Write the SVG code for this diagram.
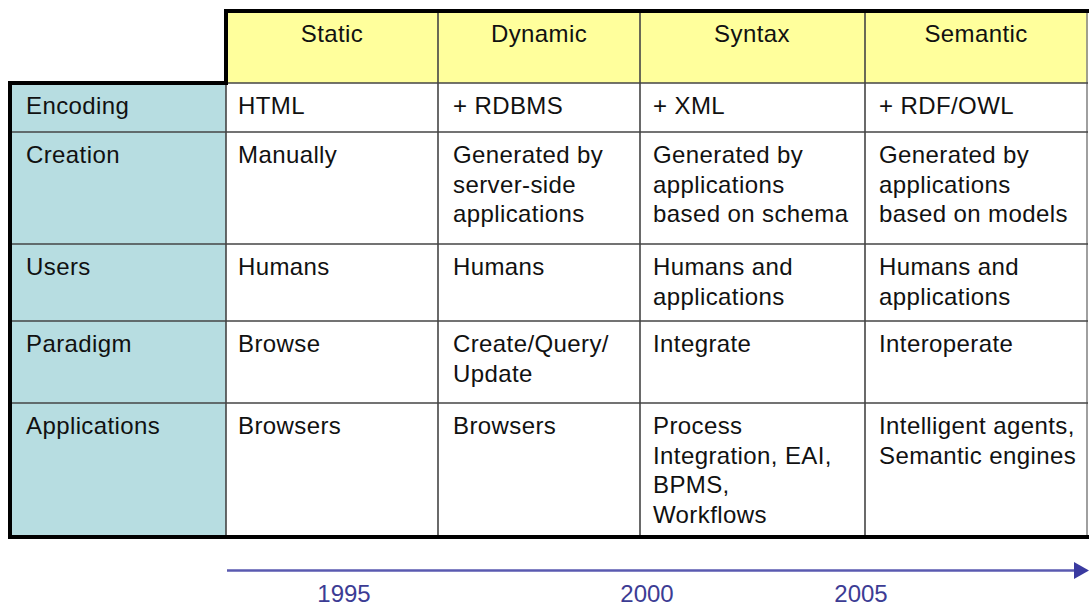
<svg xmlns="http://www.w3.org/2000/svg" width="1089" height="606" viewBox="0 0 1089 606">
<defs>
<style>
.t{font-family:"Liberation Sans",Arial,sans-serif;font-size:24px;fill:#111;letter-spacing:0.4px}
.h{text-anchor:middle}
.yr{font-family:"Liberation Sans",Arial,sans-serif;font-size:24px;fill:#3c3c94;text-anchor:middle}
.grid{stroke:#444;stroke-width:1.6;fill:none}
.thick{stroke:#000;stroke-width:4;fill:none}
</style>
</defs>
<rect width="1089" height="606" fill="#fff"/>
<g id="header">
<rect x="226" y="11" width="862" height="72" fill="#ffff9c"/>
<text class="t h" x="332" y="42">Static</text>
<text class="t h" x="539" y="42">Dynamic</text>
<text class="t h" x="752" y="42">Syntax</text>
<text class="t h" x="976" y="42">Semantic</text>
</g>
<g id="rowlabels">
<rect x="10" y="83" width="216" height="454" fill="#b7dde1"/>
<text class="t" x="26" y="114">Encoding</text>
<text class="t" x="26" y="163">Creation</text>
<text class="t" x="26" y="275">Users</text>
<text class="t" x="26" y="352">Paradigm</text>
<text class="t" x="26" y="434">Applications</text>
</g>
<g id="grid">
<line class="grid" x1="438" y1="11" x2="438" y2="537"/>
<line class="grid" x1="640" y1="11" x2="640" y2="537"/>
<line class="grid" x1="865" y1="11" x2="865" y2="537"/>
<line class="grid" x1="1087" y1="11" x2="1087" y2="537" style="stroke:#888"/>
<line class="grid" x1="226" y1="83" x2="226" y2="537"/>
<line class="grid" x1="226" y1="83" x2="1088" y2="83"/>
<line class="grid" x1="10" y1="132" x2="1088" y2="132"/>
<line class="grid" x1="10" y1="244" x2="1088" y2="244"/>
<line class="grid" x1="10" y1="321" x2="1088" y2="321"/>
<line class="grid" x1="10" y1="403" x2="1088" y2="403"/>
<path class="thick" d="M1089,11 H226 V83 H10 V537 H1089"/>
</g>
<g id="col-static">
<text class="t" x="238" y="114">HTML</text>
<text class="t" x="238" y="163">Manually</text>
<text class="t" x="238" y="275">Humans</text>
<text class="t" x="238" y="352">Browse</text>
<text class="t" x="238" y="434">Browsers</text>
</g>
<g id="col-dynamic">
<text class="t" x="453" y="114">+ RDBMS</text>
<text class="t" x="453" y="163">Generated by</text>
<text class="t" x="453" y="192.5">server-side</text>
<text class="t" x="453" y="222">applications</text>
<text class="t" x="453" y="275">Humans</text>
<text class="t" x="453" y="352">Create/Query/</text>
<text class="t" x="453" y="381.5">Update</text>
<text class="t" x="453" y="434">Browsers</text>
</g>
<g id="col-syntax">
<text class="t" x="653" y="114">+ XML</text>
<text class="t" x="653" y="163">Generated by</text>
<text class="t" x="653" y="192.5">applications</text>
<text class="t" x="653" y="222">based on schema</text>
<text class="t" x="653" y="275">Humans and</text>
<text class="t" x="653" y="304.5">applications</text>
<text class="t" x="653" y="352">Integrate</text>
<text class="t" x="653" y="434">Process</text>
<text class="t" x="653" y="463.5">Integration, EAI,</text>
<text class="t" x="653" y="493">BPMS,</text>
<text class="t" x="653" y="522.5">Workflows</text>
</g>
<g id="col-semantic">
<text class="t" x="879" y="114">+ RDF/OWL</text>
<text class="t" x="879" y="163">Generated by</text>
<text class="t" x="879" y="192.5">applications</text>
<text class="t" x="879" y="222">based on models</text>
<text class="t" x="879" y="275">Humans and</text>
<text class="t" x="879" y="304.5">applications</text>
<text class="t" x="879" y="352">Interoperate</text>
<text class="t" x="879" y="434">Intelligent agents,</text>
<text class="t" x="879" y="463.5">Semantic engines</text>
</g>
<g id="connectors">
<path d="M227,570.5 H1075" stroke="#5a5ab0" stroke-width="2.5" fill="none"/>
<path d="M1074,562 L1089,570.5 L1074,579 Z" fill="#3a3aa0"/>
</g>
<g id="timeline">
<text class="yr" x="344" y="602">1995</text>
<text class="yr" x="647" y="602">2000</text>
<text class="yr" x="861" y="602">2005</text>
</g>
</svg>
